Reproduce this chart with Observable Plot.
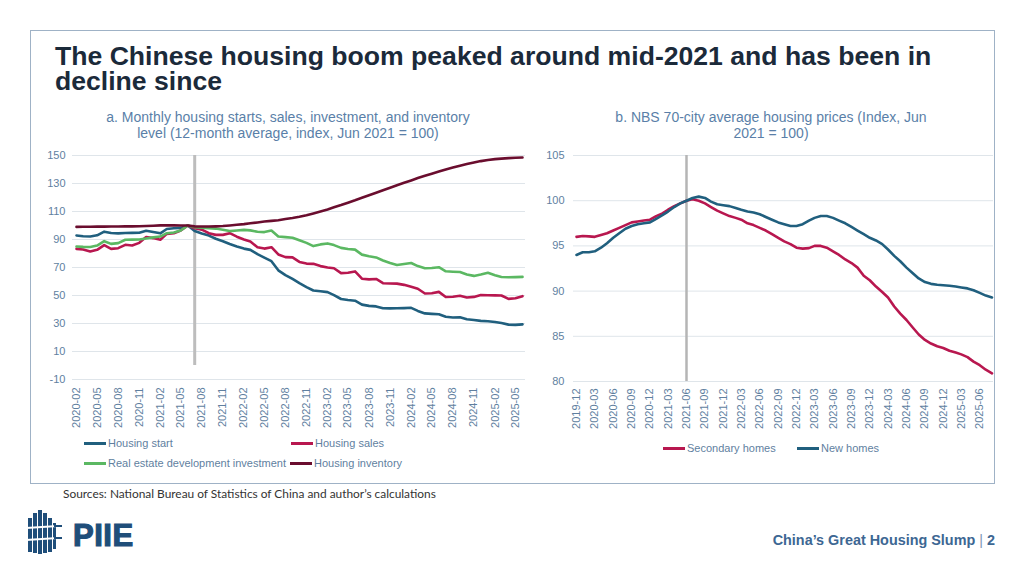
<!DOCTYPE html>
<html>
<head>
<meta charset="utf-8">
<script src="https://cdn.jsdelivr.net/npm/d3@7"></script>
<script src="https://cdn.jsdelivr.net/npm/@observablehq/plot@0.6"></script>
<style>
  html, body { margin: 0; padding: 0; background: #fff; }
  #page { position: relative; width: 1024px; height: 576px; overflow: hidden; background: #fff; font-family: "Liberation Sans", Arial, sans-serif; }
  .abs { position: absolute; }
  #frame { left: 30px; top: 30px; width: 965px; height: 454px; border: 1px solid #9fb2c6; box-sizing: border-box; }
  #title { left: 55px; top: 44px; width: 900px; font-weight: bold; font-size: 26.6px; line-height: 25px; color: #1b2a3a; }
  .ctitle { font-size: 14px; line-height: 16px; color: #5a7fa8; text-align: center; white-space: nowrap; }
  .leg { font-size: 11px; color: #5f7f9f; white-space: nowrap; line-height: 13px; }
  .sw { display: inline-block; width: 22px; height: 3px; vertical-align: middle; margin-right: 2px; position: relative; top: -1px; }
  #sources { left: 63px; top: 486px; font-family: Lato, "Open Sans", sans-serif; font-size: 11.9px; color: #333; white-space: nowrap; }
  #slump { right: 29px; top: 532px; font-weight: bold; font-size: 14.4px; color: #3d6793; white-space: nowrap; }
</style>
</head>
<body>
<div id="page">
  <div id="frame" class="abs"></div>
  <div id="title" class="abs">The Chinese housing boom peaked around mid-2021 and has been in decline since</div>
  <div class="abs ctitle" style="left:88px; top:109px; width:400px;">a. Monthly housing starts, sales, investment, and inventory<br>level (12-month average, index, Jun 2021 = 100)</div>
  <div class="abs ctitle" style="left:571px; top:109px; width:400px;">b. NBS 70-city average housing prices (Index, Jun<br>2021 = 100)</div>
  <div id="chartA" class="abs" style="left:40px; top:145px;"></div>
  <div id="chartB" class="abs" style="left:530px; top:145px;"></div>
  <div id="legA" class="abs"></div>
  <div id="legB" class="abs"></div>
  <div id="sources" class="abs">Sources: National Bureau of Statistics of China and author’s calculations</div>
  <svg class="abs" style="left:24px; top:506px;" width="120" height="52" viewBox="0 0 120 52">
    <g fill="#1f4e7a">
      <rect x="4" y="12" width="4" height="34"/>
      <rect x="9" y="7" width="4" height="40"/>
      <rect x="14" y="4" width="4" height="44"/>
      <rect x="19" y="7" width="4" height="40"/>
      <rect x="24" y="12" width="4" height="34"/>
      <rect x="29" y="17" width="3" height="26"/>
    </g>
    <g stroke="#fff" stroke-width="2">
      <line x1="2" y1="22" x2="34" y2="20"/>
      <line x1="2" y1="34" x2="34" y2="32"/>
    </g>
    <g stroke="#1f4e7a" stroke-width="2">
      <line x1="30" y1="20" x2="38" y2="20"/>
      <line x1="30" y1="32" x2="38" y2="32"/>
    </g>
    <text x="49" y="40" font-family="Liberation Sans, Arial, sans-serif" font-weight="bold" font-size="31" fill="#1f4e7a" stroke="#1f4e7a" stroke-width="1.2" letter-spacing="0.5">PIIE</text>
  </svg>
  <div id="slump" class="abs">China’s Great Housing Slump <span style="font-weight:normal;color:#7f98b3">|</span> 2</div>
</div>
<script>
// ---------- Data: panel a (12-month average, index, Jun 2021 = 100), monthly 2020-02 .. 2025-06 ----------
const monthsA = d3.utcMonth.range(new Date(Date.UTC(2020, 1, 1)), new Date(Date.UTC(2025, 6, 1)));
const housingStart = [
  92.9, 92.3, 92.1, 93.0, 95.6, 94.6, 94.4, 94.6, 94.7, 94.8, 96.3, 95.3, 94.4, 97.5, 98.0, 98.3, 100,
  96.0, 94.3, 92.8, 90.5, 88.8, 86.8, 85.0, 83.5, 82.6, 79.5, 77.0, 74.5, 68.0, 64.6, 61.8, 58.8, 56.0,
  53.6, 53.0, 52.4, 50.3, 47.5, 46.8, 46.3, 43.5, 42.6, 42.2, 40.9, 40.8, 40.9, 41.0, 41.2, 39.0, 37.2,
  36.9, 36.6, 34.8, 34.3, 34.4, 33.0, 32.5, 31.9, 31.6, 31.1, 30.3, 29.2, 29.0, 29.4
];
const housingSales = [
  83.3, 82.9, 81.4, 82.6, 86.0, 83.3, 83.8, 86.2, 85.7, 87.6, 91.7, 91.0, 89.8, 94.0, 94.5, 96.4, 100,
  98.0, 97.0, 94.5, 93.3, 93.3, 94.5, 92.0, 90.0, 88.5, 84.5, 83.5, 84.5, 79.3, 77.4, 77.2, 74.0, 72.8,
  72.6, 71.0, 70.0, 69.5, 66.0, 66.2, 67.2, 62.0, 61.5, 61.8, 58.8, 58.6, 58.5, 57.6, 56.2, 54.8, 51.4,
  51.6, 52.6, 48.9, 49.1, 49.8, 48.6, 49.0, 50.3, 50.2, 50.1, 50.0, 47.6, 48.0, 49.5
];
const investment = [
  85.0, 84.7, 84.6, 85.7, 88.8, 86.9, 87.4, 89.8, 89.9, 90.0, 90.7, 91.5, 92.1, 94.5, 95.0, 96.4, 100,
  98.8, 98.5, 98.1, 97.8, 97.0, 96.0, 96.4, 96.9, 96.5, 95.5, 95.3, 96.4, 92.1, 91.7, 91.3, 89.5, 87.6,
  85.3, 86.5, 87.2, 86.0, 84.0, 83.2, 82.8, 79.2, 78.0, 77.2, 75.0, 73.2, 71.8, 72.5, 73.2, 71.0, 69.5,
  69.6, 70.2, 67.3, 67.0, 66.8, 65.0, 64.0, 65.0, 66.2, 64.5, 63.2, 63.0, 63.1, 63.3
];
const inventory = [
  99.0, 99.1, 99.1, 99.2, 99.2, 99.3, 99.3, 99.4, 99.4, 99.5, 99.6, 99.8, 100.1, 100.2, 100.1, 100.0, 100,
  99.4, 99.3, 99.3, 99.4, 99.6, 100.0, 100.5, 101.0, 101.6, 102.2, 102.8, 103.3, 103.8, 104.6, 105.3, 106.2, 107.3,
  108.6, 110.0, 111.5, 113.0, 114.6, 116.3, 118.0, 119.8, 121.6, 123.4, 125.2, 127.0, 128.8, 130.5, 132.2, 133.9, 135.5,
  137.0, 138.5, 140.0, 141.4, 142.7, 143.9, 145.0, 146.0, 146.8, 147.4, 147.8, 148.1, 148.4, 148.6
];
const seriesA = ["Housing start", "Housing sales", "Real estate development investment", "Housing inventory"];
const colorsA = ["#205f7e", "#b8174f", "#5bb862", "#6a0d2e"];
const valuesA = [housingStart, housingSales, investment, inventory];
const yTicksA = [-10, 10, 30, 50, 70, 90, 110, 130, 150];
const xTicksA = monthsA.filter((d, i) => i % 3 === 0);   // 2020-02, 2020-05, ... 2025-05
const peakA = new Date(Date.UTC(2021, 6, 1));

// ---------- Data: panel b (NBS 70-city average housing prices, Jun 2021 = 100), monthly 2019-12 .. 2025-08 ----------
const monthsB = d3.utcMonth.range(new Date(Date.UTC(2019, 11, 1)), new Date(Date.UTC(2025, 8, 1)));
const secondaryHomes = [
  96.0, 96.1, 96.05, 96.0, 96.2, 96.4, 96.7, 97.0, 97.3, 97.6, 97.7, 97.8, 97.9, 98.3, 98.6, 99.0, 99.4, 99.7,
  100, 100.15, 100.0, 99.7, 99.3, 98.9, 98.6, 98.3, 98.1, 97.9, 97.5, 97.3, 97.0, 96.7, 96.3, 95.9, 95.5,
  95.2, 94.8, 94.7, 94.75, 95.0, 95.0, 94.8, 94.4, 94.0, 93.5, 93.1, 92.6, 91.7, 91.2, 90.5, 89.9, 89.3,
  88.3, 87.5, 86.8, 86.0, 85.2, 84.6, 84.2, 83.9, 83.7, 83.4, 83.2, 83.0, 82.7, 82.2, 81.8, 81.3, 80.9
];
const newHomes = [
  94.0, 94.3, 94.3, 94.4, 94.8, 95.3, 95.9, 96.4, 96.9, 97.2, 97.4, 97.5, 97.6, 98.0, 98.4, 98.8, 99.3, 99.7,
  100, 100.3, 100.45, 100.3, 99.9, 99.6, 99.5, 99.4, 99.2, 99.0, 98.8, 98.7, 98.5, 98.2, 97.9, 97.6, 97.4,
  97.2, 97.2, 97.4, 97.8, 98.1, 98.3, 98.3, 98.1, 97.8, 97.5, 97.1, 96.7, 96.3, 95.9, 95.6, 95.2, 94.6,
  93.9, 93.3, 92.6, 92.0, 91.4, 91.0, 90.8, 90.7, 90.65, 90.6, 90.5, 90.4, 90.3, 90.1, 89.8, 89.5, 89.3
];
const seriesB = ["Secondary homes", "New homes"];
const colorsB = ["#b8174f", "#205f7e"];
const valuesB = [secondaryHomes, newHomes];
const yTicksB = [80, 85, 90, 95, 100, 105];
const xTicksB = monthsB.filter((d, i) => i % 3 === 0);   // 2019-12, 2020-03, ... 2025-06
const peakB = new Date(Date.UTC(2021, 5, 1));

const fmt = d3.utcFormat("%Y-%m");
const yfmt = d => String(d);
const axisColor = "#5f7f9f";
const font = "'Liberation Sans', Arial, sans-serif";

function tidy(months, names, values) {
  const rows = [];
  names.forEach((s, k) => values[k].forEach((v, i) => rows.push({date: months[i], value: v, series: s})));
  return rows;
}

function lines(rows, names, colors) {
  return names.map((s, k) => Plot.line(rows.filter(r => r.series === s), {
    x: "date", y: "value", stroke: colors[k], strokeWidth: 2.6, strokeLinejoin: "round", curve: "linear"
  }));
}

const rowsA = tidy(monthsA, seriesA, valuesA);
const chartA = Plot.plot({
  width: 490, height: 289,
  marginLeft: 32, marginRight: 5, marginTop: 10, marginBottom: 55,
  insetLeft: 4, insetRight: 3,
  style: {fontFamily: font, fontSize: "11px", background: "transparent", overflow: "visible"},
  x: {type: "utc", domain: [monthsA[0], monthsA[monthsA.length - 1]]},
  y: {domain: [-10, 150]},
  marks: [
    Plot.gridY(yTicksA, {stroke: "#dfe5ea", strokeOpacity: 1, strokeWidth: 1}),
    Plot.axisY({ticks: yTicksA, tickFormat: yfmt, tickSize: 0, tickPadding: 7, label: null, fill: axisColor, fontSize: 11}),
    Plot.axisX({ticks: xTicksA, tickFormat: fmt, tickRotate: -90, tickSize: 0, tickPadding: 8, label: null, fill: axisColor, fontSize: 11}),
    Plot.ruleX([peakA], {y1: 0, y2: 150, stroke: "#bdbdbd", strokeWidth: 3}),
    ...lines(rowsA, seriesA, colorsA)
  ]
});
document.getElementById("chartA").appendChild(chartA);

const rowsB = tidy(monthsB, seriesB, valuesB);
const chartB = Plot.plot({
  width: 470, height: 291,
  marginLeft: 43, marginRight: 7, marginTop: 10, marginBottom: 55,
  insetLeft: 3, insetRight: 1.5,
  style: {fontFamily: font, fontSize: "11px", background: "transparent", overflow: "visible"},
  x: {type: "utc", domain: [monthsB[0], monthsB[monthsB.length - 1]]},
  y: {domain: [80, 105]},
  marks: [
    Plot.gridY(yTicksB, {stroke: "#dfe5ea", strokeOpacity: 1, strokeWidth: 1}),
    Plot.axisY({ticks: yTicksB, tickFormat: yfmt, tickSize: 0, tickPadding: 9, label: null, fill: axisColor, fontSize: 11}),
    Plot.axisX({ticks: xTicksB, tickFormat: fmt, tickRotate: -90, tickSize: 0, tickPadding: 7, label: null, fill: axisColor, fontSize: 11}),
    Plot.ruleX([peakB], {y1: 80, y2: 105, stroke: "#b5b5b5", strokeWidth: 2.5}),
    ...lines(rowsB, seriesB, colorsB)
  ]
});
document.getElementById("chartB").appendChild(chartB);

// ---------- Legends ----------
function legendItem(container, name, color, left, top) {
  const d = document.createElement("div");
  d.className = "abs leg";
  d.style.left = left + "px";
  d.style.top = top + "px";
  d.innerHTML = `<span class="sw" style="background:${color}"></span>${name}`;
  container.appendChild(d);
}
const legA = document.getElementById("legA");
const legPosA = [[84, 437], [291, 437], [84, 457], [290, 457]];
seriesA.forEach((s, k) => legendItem(legA, s, colorsA[k], legPosA[k][0], legPosA[k][1]));
const legB = document.getElementById("legB");
const legPosB = [[663, 442], [797, 442]];
seriesB.forEach((s, k) => legendItem(legB, s, colorsB[k], legPosB[k][0], legPosB[k][1]));
</script>
</body>
</html>
